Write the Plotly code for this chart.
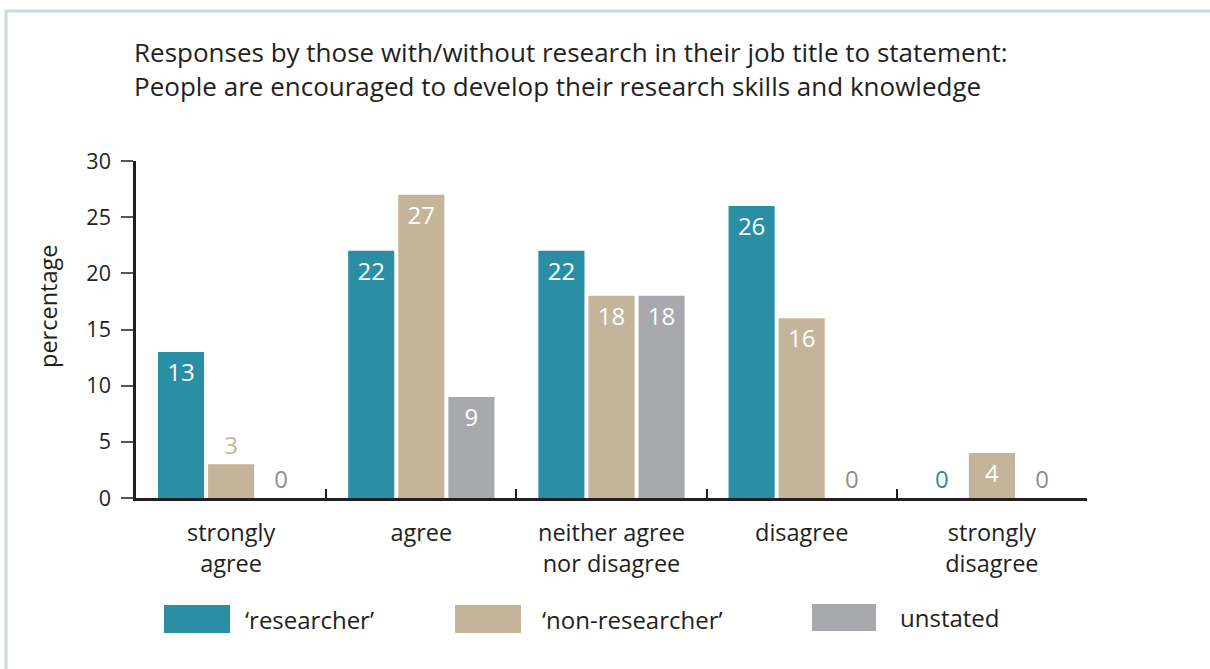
import plotly.graph_objects as go

categories = ["strongly<br>agree", "agree", "neither agree<br>nor disagree", "disagree", "strongly<br>disagree"]
series_names = ["\u2018researcher\u2019", "\u2018non-researcher\u2019", "unstated"]
researcher = [13, 22, 22, 26, 0]
non_researcher = [3, 27, 18, 16, 4]
unstated = [0, 9, 18, 0, 0]
y_ticks = [0, 5, 10, 15, 20, 25, 30]

colors = ["#2a8fa5", "#c4b49a", "#a8a9ac"]
outside_colors = ["#2a8fa5", "#c4b49a", "#8e8f92"]
FONT = "Open Sans"
TXT = "#231f20"

W, H = 1210, 669
L, R, T, B = 136, 1087, 161, 498  # plot area in pixels


def px(x):
    return (x - L) / (R - L)


def py(y):
    return (B - y) / (B - T)


fig = go.Figure()
for name, vals, col, ocol in zip(series_names, [researcher, non_researcher, unstated], colors, outside_colors):
    pos = ["inside" if v >= 4 else "outside" for v in vals]
    tcol = ["white" if v >= 4 else ocol for v in vals]
    fig.add_trace(go.Bar(
        x=categories, y=vals, name=name,
        marker=dict(color=col, line=dict(width=0)),
        text=[str(v) for v in vals], textposition=pos,
        insidetextanchor="end",
        textfont=dict(family=FONT, size=24, color=tcol),
        cliponaxis=False, showlegend=False,
    ))

fig.update_layout(
    width=W, height=H,
    margin=dict(l=L, r=W - R, t=T, b=H - B, pad=0),
    paper_bgcolor="white", plot_bgcolor="white",
    barmode="group", bargap=0.21, bargroupgap=0.08,
    uniformtext=dict(mode=False),
    font=dict(family=FONT, color=TXT),
    xaxis=dict(
        type="category", tickson="boundaries", ticks="inside", ticklen=9, tickwidth=1.5,
        tickcolor=TXT, showline=True, linecolor=TXT, linewidth=2.5, showgrid=False,
        tickfont=dict(family=FONT, size=23.5, color=TXT), zeroline=False,
        ticklabelstandoff=12,
    ),
    yaxis=dict(
        range=[0, 30], tickvals=y_ticks, ticks="outside", ticklen=12, tickwidth=1.5,
        tickcolor="#555555", showline=True, linecolor=TXT, linewidth=2.5, showgrid=False,
        zeroline=False, tickfont=dict(family=FONT, size=21.5, color=TXT), ticklabelstandoff=6,
    ),
)

# Title
fig.add_annotation(
    xref="paper", yref="paper", x=px(132), y=py(32), xanchor="left", yanchor="top",
    align="left", showarrow=False,
    text="Responses by those with/without research in their job title to statement:<br>"
         "People are encouraged to develop their research skills and knowledge",
    font=dict(family=FONT, size=26, color=TXT),
)

# Y axis title
fig.add_annotation(
    xref="paper", yref="paper", x=px(48), y=py(307), xanchor="center", yanchor="middle",
    textangle=-90, showarrow=False, text="percentage",
    font=dict(family=FONT, size=23.5, color=TXT),
)

# Legend drawn as swatches with labels
legend_items = [(164, 230, 605, 633, 243), (455, 521, 605, 633, 540), (812, 876, 604, 631, 898)]
for (x0, x1, y0, y1, tx), name, col in zip(legend_items, series_names, colors):
    fig.add_shape(type="rect", xref="paper", yref="paper",
                  x0=px(x0), x1=px(x1), y0=py(y1), y1=py(y0),
                  fillcolor=col, line=dict(width=0))
    fig.add_annotation(xref="paper", yref="paper", x=px(tx), y=py((y0 + y1) / 2),
                       xanchor="left", yanchor="middle", showarrow=False, text=name,
                       font=dict(family=FONT, size=24, color=TXT))

# Frame lines along the top and left edges
fig.add_shape(type="line", xref="paper", yref="paper", x0=px(5), x1=px(W), y0=py(11), y1=py(11),
              line=dict(color="#c8dbe3", width=3))
fig.add_shape(type="line", xref="paper", yref="paper", x0=px(6), x1=px(6), y0=py(10), y1=py(H),
              line=dict(color="#c8dbe3", width=3))

fig.write_html("out.html")
